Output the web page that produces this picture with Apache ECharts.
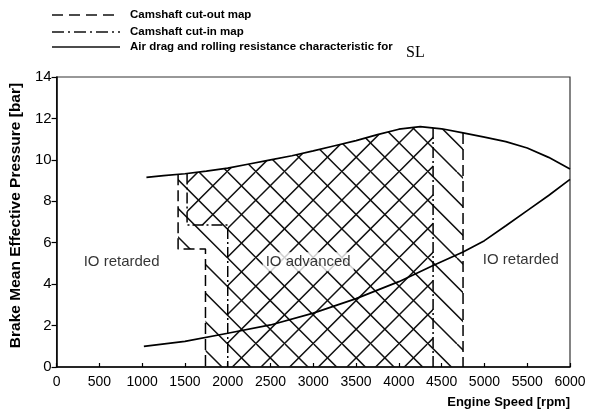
<!DOCTYPE html>
<html><head><meta charset="utf-8">
<script src="https://cdn.jsdelivr.net/npm/echarts@6/dist/echarts.min.js"></script>
<style>html,body{margin:0;padding:0;background:#fff}#c{width:589px;height:412px}</style>
</head><body><div id="c"></div>
<script>
// ---- data ----
const xTickValues = [0,500,1000,1500,2000,2500,3000,3500,4000,4500,5000,5500,6000];
const yTickValues = [0,2,4,6,8,10,12,14];

// full-load (max BMEP) curve
const fullLoadRpm  = [1050,1250,1500,1750,2000,2250,2500,2750,3000,3250,3500,3750,4000,4250,4500,4750,5000,5250,5500,5750,6000];
const fullLoadBmep = [9.15,9.24,9.33,9.46,9.60,9.80,10.00,10.20,10.43,10.68,10.93,11.22,11.48,11.60,11.50,11.30,11.10,10.88,10.57,10.12,9.56];

// air drag and rolling resistance (road load)
const roadLoadRpm  = [1020,1500,2000,2500,3000,3500,4000,4400,4750,5000,5250,5500,5750,6000];
const roadLoadBmep = [1.00,1.24,1.63,2.03,2.60,3.30,4.12,4.90,5.55,6.10,6.82,7.55,8.28,9.06];

// camshaft cut-out map (dashed)
const cutOutLowRpm   = [1420,1420,1740,1740];
const cutOutLowBmep  = [9.30,5.70,5.70,0];
const cutOutHighRpm  = [4750,4750];
const cutOutHighBmep = [11.30,0];

// camshaft cut-in map (dash-dot)
const cutInLowRpm   = [1525,1525,2000,2000];
const cutInLowBmep  = [9.34,6.85,6.85,0];
const cutInHighRpm  = [4400,4400];
const cutInHighBmep = [11.54,0];

// region labels
const regionNames = ['IO retarded','IO advanced','IO retarded'];
const regionRpm   = [760,2940,5425];
const regionBmep  = [5.06,5.08,5.17];

const legendNames = ['Camshaft cut-out map','Camshaft cut-in map','Air drag and rolling resistance characteristic for'];

// ---- helpers ----
const zip = (a,b) => a.map((v,i)=>[v,b[i]]);
const fullLoad = zip(fullLoadRpm, fullLoadBmep);

function regionPolygon(lowR, lowB, highR, highB){
  const pts = [[lowR[0], lowB[0]]];
  fullLoad.forEach(p => { if (p[0] > lowR[0] && p[0] < highR[0]) pts.push(p); });
  for (let i=0;i<highR.length;i++) pts.push([highR[i], highB[i]]);
  for (let i=lowR.length-1;i>=1;i--) pts.push([lowR[i], lowB[i]]);
  return pts;
}
const outerPoly = regionPolygon(cutOutLowRpm, cutOutLowBmep, cutOutHighRpm, cutOutHighBmep);
const innerPoly = regionPolygon(cutInLowRpm, cutInLowBmep, cutInHighRpm, cutInHighBmep);

function makeHatch(dir){
  const T = 86, D = T/3;
  const cv = document.createElement('canvas');
  cv.width = T; cv.height = T;
  const ctx = cv.getContext('2d');
  ctx.strokeStyle = '#111'; ctx.lineWidth = 1.5;
  ctx.beginPath();
  for (let k=-7;k<=10;k++){
    if (dir === 'back'){ const c = 27 + k*D; ctx.moveTo(c,0); ctx.lineTo(c+T,T); }
    else { const c = 26 + k*D; ctx.moveTo(c,0); ctx.lineTo(c-T,T); }
  }
  ctx.stroke();
  return cv;
}
const backHatch = makeHatch('back');
const fwdHatch = makeHatch('fwd');

function polySeries(poly, img){
  return {
    type:'custom', coordinateSystem:'cartesian2d', silent:true, z:1,
    data: poly,
    renderItem: (params, api) => {
      if (params.dataIndex !== 0) return null;
      return { type:'polygon', shape:{ points: poly.map(p => api.coord(p)) },
               style:{ fill:{ image: img, repeat:'repeat' }, stroke:null } };
    }
  };
}

const FONT = 'Liberation Sans, Arial, Helvetica, sans-serif';
const lineBase = { type:'line', symbol:'none', silent:true, z:3, animation:false };

const chart = echarts.init(document.getElementById('c'), null, {renderer:'canvas'});
chart.setOption({
  animation:false,
  backgroundColor:'#fff',
  grid:{ left:52, right:19, top:77, bottom:45, show:true, borderColor:'#333', borderWidth:1.2, backgroundColor:'transparent' },
  xAxis:{
    type:'value', min:0, max:6000, interval:500,
    axisLine:{ lineStyle:{ color:'#000', width:1.5 } },
    axisTick:{ inside:true, length:4, lineStyle:{ color:'#000', width:1.2 } },
    splitLine:{ show:false },
    axisLabel:{ color:'#000', fontSize:14, fontFamily:FONT, margin:8,
      formatter: v => xTickValues.includes(v) ? String(v) : '' }
  },
  yAxis:{
    type:'value', min:0, max:14, interval:2,
    axisLine:{ show:true, lineStyle:{ color:'#000', width:1.5 } },
    axisTick:{ show:true, length:5, lineStyle:{ color:'#000', width:1.2 } },
    splitLine:{ show:false },
    axisLabel:{ color:'#000', fontSize:15, fontFamily:FONT, margin:5,
      formatter: v => yTickValues.includes(v) ? String(v) : '' },
    name:'Brake Mean Effective Pressure [bar]', nameLocation:'middle', nameGap:24,
    nameTextStyle:{ color:'#000', fontSize:15.5, fontWeight:'bold', fontFamily:FONT, padding:[0,0,0,13] }
  },
  graphic:[
    { type:'line', shape:{x1:52,y1:15,x2:120,y2:15}, style:{stroke:'#111', lineWidth:1.3, lineDash:[11,6]} },
    { type:'line', shape:{x1:52,y1:32,x2:120,y2:32}, style:{stroke:'#111', lineWidth:1.6, lineDash:[12,4,2,4]} },
    { type:'line', shape:{x1:52,y1:47,x2:120,y2:47}, style:{stroke:'#111', lineWidth:1.6} },
    { type:'text', x:130, y:15, style:{ text:legendNames[0], fill:'#000', font:'bold 11.5px '+FONT, textVerticalAlign:'middle' } },
    { type:'text', x:130, y:32, style:{ text:legendNames[1], fill:'#000', font:'bold 11.5px '+FONT, textVerticalAlign:'middle' } },
    { type:'text', x:130, y:47, style:{ text:legendNames[2], fill:'#000', font:'bold 11.5px '+FONT, textVerticalAlign:'middle' } },
    { type:'text', x:406, y:53, style:{ text:'SL', fill:'#000', font:'16px Liberation Serif, DejaVu Serif, serif', textVerticalAlign:'middle' } },
    { type:'text', x:570, y:402, style:{ text:'Engine Speed [rpm]', fill:'#000', font:'bold 13px '+FONT, textAlign:'right', textVerticalAlign:'middle' } }
  ],
  series:[
    polySeries(outerPoly, backHatch),
    polySeries(innerPoly, fwdHatch),
    Object.assign({}, lineBase, { data: fullLoad, lineStyle:{ color:'#000', width:1.7 } }),
    Object.assign({}, lineBase, { data: zip(roadLoadRpm, roadLoadBmep), lineStyle:{ color:'#000', width:1.7 } }),
    Object.assign({}, lineBase, { data: zip(cutOutLowRpm, cutOutLowBmep), lineStyle:{ color:'#000', width:1.5, type:[11,5] } }),
    Object.assign({}, lineBase, { data: zip(cutOutHighRpm, cutOutHighBmep), lineStyle:{ color:'#000', width:1.5, type:[11,5] } }),
    Object.assign({}, lineBase, { data: zip(cutInLowRpm, cutInLowBmep), lineStyle:{ color:'#000', width:1.5, type:[11,3,2,3] } }),
    Object.assign({}, lineBase, { data: zip(cutInHighRpm, cutInHighBmep), lineStyle:{ color:'#000', width:1.5, type:[11,3,2,3] } }),
    {
      type:'scatter', silent:true, z:5, symbolSize:1, itemStyle:{ color:'transparent' },
      data: regionNames.map((n,i)=>({ name:n, value:[regionRpm[i], regionBmep[i]] })),
      label:{ show:true, position:'inside', formatter:'{b}', color:'#000', fontSize:15, fontFamily:FONT,
              backgroundColor:'#fff', padding:[2,3] }
    }
  ]
});
</script>
</body></html>
